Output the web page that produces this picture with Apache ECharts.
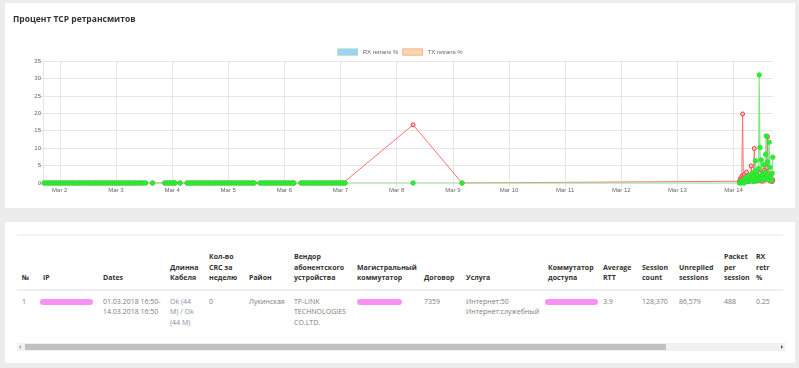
<!DOCTYPE html>
<html>
<head>
<meta charset="utf-8">
<script src="https://cdn.jsdelivr.net/npm/echarts@6/dist/echarts.min.js"></script>
<style>
  html, body { margin: 0; padding: 0; }
  body {
    width: 799px; height: 368px; position: relative; overflow: hidden;
    background: #ececec; font-family: "Open Sans", sans-serif;
  }
  .box { position: absolute; left: 5px; width: 790px; background: #fff; }
  #chartBox { top: 3px; height: 205px; }
  #tableBox { top: 222px; height: 141px; }
  #retransChart { width: 790px; height: 205px; }
  .table-wrap {
    position: absolute; left: 12px; top: 12px; width: 766px; height: 105px; overflow: hidden;
  }
  table {
    border-collapse: collapse; table-layout: fixed; font-size: 7px; line-height: 10.7px;
    border-top: 2px solid #f2f2f2;
  }
  th {
    font-weight: bold; color: #333; text-align: left; vertical-align: bottom;
    padding: 16px 2px 5px 5px; border-bottom: 2px solid #efefef; white-space: nowrap;
  }
  td { color: #7c7c7c; vertical-align: top; padding: 5.5px 2px 0 5px; white-space: nowrap; }
  td.link { color: #8790a3; }
  .masked {
    display: inline-block; height: 6px; border-radius: 3px; margin-top: 2px;
    background: rgba(244, 110, 240, 0.75);
  }
  .sb { position: absolute; left: 12px; top: 121px; width: 768px; height: 8px; background: #f1f1f1; }
  .sb .thumb { position: absolute; left: 8px; top: 1px; width: 641px; height: 6px; background: #c1c1c1; }
  .sb .arr-l, .sb .arr-r { position: absolute; top: 2px; width: 0; height: 0;
    border-top: 2px solid transparent; border-bottom: 2px solid transparent; }
  .sb .arr-l { left: 2px; border-right: 2px solid #a3a3a3; }
  .sb .arr-r { right: 2px; border-left: 2px solid #505050; }
</style>
</head>
<body>
<div class="box" id="chartBox"><div id="retransChart"></div></div>

<div class="box" id="tableBox">
  <div class="table-wrap">
    <table style="width:774px">
      <colgroup>
        <col style="width:21px"><col style="width:60px"><col style="width:67px"><col style="width:39px">
        <col style="width:40px"><col style="width:45px"><col style="width:63px"><col style="width:67px">
        <col style="width:42px"><col style="width:82px"><col style="width:55px"><col style="width:39px">
        <col style="width:37px"><col style="width:45px"><col style="width:32px"><col style="width:40px">
      </colgroup>
      <thead>
        <tr>
          <th>№</th><th>IP</th><th>Dates</th><th>Длинна<br>Кабеля</th><th>Кол-во<br>CRC за<br>неделю</th>
          <th>Район</th><th>Вендор<br>абонентского<br>устройства</th><th>Магистральный<br>коммутатор</th>
          <th>Договор</th><th>Услуга</th><th>Коммутатор<br>доступа</th><th>Average<br>RTT</th>
          <th>Session<br>count</th><th>Unreplied<br>sessions</th><th>Packet<br>per<br>session</th><th>RX<br>retr<br>%</th>
        </tr>
      </thead>
      <tbody>
        <tr>
          <td>1</td>
          <td><span class="masked" style="width:53px;margin-left:-3px"></span></td>
          <td>01.03.2018 16:50-<br>14.03.2018 16:50</td>
          <td class="link">Ok (44<br>M) / Ok<br>(44 M)</td>
          <td>0</td>
          <td>Лукинская</td>
          <td>TP-LINK<br>TECHNOLOGIES<br>CO.LTD.</td>
          <td><span class="masked" style="width:45px"></span></td>
          <td>7359</td>
          <td>Интернет:50<br>Интернет:служебный</td>
          <td><span class="masked" style="width:53px;margin-left:-3px"></span></td>
          <td>3.9</td>
          <td>128,370</td>
          <td>86,579</td>
          <td>488</td>
          <td>0.25</td>
        </tr>
      </tbody>
    </table>
  </div>
  <div class="sb"><div class="arr-l"></div><div class="thumb"></div><div class="arr-r"></div></div>
</div>

<script>
// Axis range of the chart (day of March + time)
const rangeStart = '01 16:50';
const rangeEnd = '14 16:50';
const monthName = 'Mar';

// Sample times (day of March + time)
const sampleTimes = [
  '01 17:20', '01 18:20', '01 19:20', '01 20:20', '01 21:20', '01 22:20', '01 23:20',
  '02 00:20', '02 01:20', '02 02:20', '02 03:20', '02 04:20', '02 05:20', '02 06:20', '02 07:20', '02 08:20', '02 09:20', '02 10:20', '02 11:20',
  '02 12:20', '02 13:20', '02 14:20', '02 15:20', '02 16:20', '02 17:20', '02 18:20', '02 19:20', '02 20:20', '02 21:20', '02 22:20', '02 23:20',
  '03 00:20', '03 01:20', '03 02:20', '03 03:20', '03 04:20', '03 05:20', '03 06:20', '03 07:20', '03 08:20', '03 09:20', '03 10:20', '03 11:20', '03 12:40',
  '03 15:40',
  '03 20:50', '03 21:50', '03 22:50', '03 23:50', '04 00:50', '04 01:20',
  '04 03:25',
  '04 06:25', '04 07:25', '04 08:25', '04 09:25', '04 10:25', '04 11:25', '04 12:25', '04 13:25', '04 14:25', '04 15:25', '04 16:25', '04 17:25',
  '04 18:25', '04 19:25', '04 20:25', '04 21:25', '04 22:25', '04 23:25',
  '05 00:25', '05 01:25', '05 02:25', '05 03:25', '05 04:25', '05 05:25', '05 06:25', '05 07:25', '05 08:25', '05 09:25', '05 10:25', '05 11:05',
  '05 13:35', '05 14:35', '05 15:35', '05 16:35', '05 17:35', '05 18:35', '05 19:35', '05 20:35', '05 21:35', '05 22:35', '05 23:35',
  '06 00:35', '06 01:35', '06 02:35', '06 03:35', '06 04:00',
  '06 07:05', '06 08:05', '06 09:05', '06 10:05', '06 11:05', '06 12:05', '06 13:05', '06 14:05', '06 15:05', '06 16:05', '06 17:05', '06 18:05',
  '06 19:05', '06 20:05', '06 21:05', '06 22:05', '06 23:05', '07 00:05', '07 01:05', '07 01:55',
  '08 07:00', '09 03:55',
  '14 02:30', '14 02:50', '14 03:10', '14 03:30', '14 03:50', '14 04:10', '14 04:30', '14 04:50',
  '14 05:10', '14 05:30', '14 05:50', '14 06:10', '14 06:30', '14 06:50', '14 07:10', '14 07:30',
  '14 07:50', '14 08:10', '14 08:30', '14 08:50', '14 09:05', '14 09:20', '14 09:40', '14 10:00',
  '14 10:20', '14 10:40', '14 10:55', '14 11:15', '14 11:30', '14 11:50', '14 12:10', '14 12:30',
  '14 12:50', '14 13:10', '14 13:25', '14 13:40', '14 13:55', '14 14:15', '14 14:30', '14 14:50',
  '14 15:10', '14 15:30', '14 15:50', '14 16:10', '14 16:30', '14 16:45'
];

// RX retrans %, one value per sample time
const rxRetrans = [
  0, 0, 0, 0, 0, 0, 0,
  0, 0, 0, 0, 0, 0, 0, 0, 0, 0, 0, 0,
  0, 0, 0, 0, 0, 0, 0, 0, 0, 0, 0, 0,
  0, 0, 0, 0, 0, 0, 0, 0, 0, 0, 0, 0, 0,
  0,
  0, 0, 0, 0, 0, 0,
  0,
  0, 0, 0, 0, 0, 0, 0, 0, 0, 0, 0, 0,
  0, 0, 0, 0, 0, 0,
  0, 0, 0, 0, 0, 0, 0, 0, 0, 0, 0, 0,
  0, 0, 0, 0, 0, 0, 0, 0, 0, 0, 0,
  0, 0, 0, 0, 0,
  0, 0, 0, 0, 0, 0, 0, 0, 0, 0, 0, 0,
  0, 0, 0, 0, 0, 0, 0, 0,
  0, 0,
  0, 0.3, 0, 0.6, 0.2, 0.8, 0, 1.2,
  0.4, 0.9, 1.6, 0.5, 2.1, 0.7, 1.4, 0.6,
  2.6, 0.9, 1.8, 0.4, 3.4, 6.4, 1.1, 2.3,
  0.8, 4.1, 31.0, 10.2, 1.5, 6.6, 2.4, 0.9,
  5.2, 1.3, 3.0, 8.2, 13.5, 2.2, 6.0, 1.0,
  11.7, 4.5, 1.9, 0.7, 2.8, 7.4
];

// TX retrans %, one value per sample time
const txRetrans = [
  0, 0, 0, 0, 0, 0, 0,
  0, 0, 0, 0, 0, 0, 0, 0, 0, 0, 0, 0,
  0, 0, 0, 0, 0, 0, 0, 0, 0, 0, 0, 0,
  0, 0, 0, 0, 0, 0, 0, 0, 0, 0, 0, 0, 0,
  0,
  0, 0, 0, 0, 0, 0,
  0,
  0, 0, 0, 0, 0, 0, 0, 0, 0, 0, 0, 0,
  0, 0, 0, 0, 0, 0,
  0, 0, 0, 0, 0, 0, 0, 0, 0, 0, 0, 0,
  0, 0, 0, 0, 0, 0, 0, 0, 0, 0, 0,
  0, 0, 0, 0, 0,
  0, 0, 0, 0, 0, 0, 0, 0, 0, 0, 0, 0,
  0, 0, 0, 0, 0, 0, 0, 0,
  16.7, 0,
  0.5, 1.2, 0.8, 2.0, 19.8, 1.5, 2.4, 0.6,
  1.8, 3.1, 0.7, 1.3, 0.4, 2.2, 0.9, 4.9,
  1.1, 2.0, 0.5, 9.9, 1.6, 0.8, 2.5, 0.6,
  1.9, 1.2, 0.7, 2.8, 0.9, 1.7, 0.5, 2.3,
  1.0, 3.6, 0.8, 1.4, 2.1, 4.4, 13.3, 2.7,
  1.5, 0.6, 2.2, 1.0, 0.4, 0.9
];

const yTicks = [0, 5, 10, 15, 20, 25, 30, 35];

/**
 * Converts 'DD HH:MM' (March) into hours since Mar 1 00:00.
 * @param {string} s
 */
function toHours(s) {
  const [day, hm] = s.split(' ');
  const [h, m] = hm.split(':');
  return (Number(day) - 1) * 24 + Number(h) + Number(m) / 60;
}

const labelFont = '"Liberation Sans", Arial, sans-serif';
const gridColor = '#e6e6e6';

const chart = echarts.init(document.getElementById('retransChart'));

const option = {
  backgroundColor: '#fff',
  animation: false,
  title: {
    text: 'Процент TCP ретрансмитов',
    left: 8,
    top: 12,
    padding: 0,
    textStyle: {
      fontFamily: '"Open Sans", sans-serif',
      fontWeight: 'bold',
      fontSize: 8.5,
      color: '#333'
    }
  },
  legend: {
    top: 45.5,
    left: 'center',
    padding: 0,
    itemWidth: 20,
    itemHeight: 6.5,
    itemGap: 4,
    textStyle: {fontFamily: labelFont, fontSize: 6, color: '#666'},
    data: [
      {name: 'RX retrans %', icon: 'rect',
        itemStyle: {color: '#a4d0f7', borderColor: '#7ee59a', borderWidth: 0.6}},
      {name: 'TX retrans %', icon: 'rect',
        itemStyle: {color: '#fad6a8', borderColor: '#f39088', borderWidth: 0.6}}
    ]
  },
  grid: {left: 38, right: 22, top: 58, bottom: 25},
  xAxis: {
    type: 'value',
    min: toHours(rangeStart),
    max: toHours(rangeEnd),
    minInterval: 24,
    maxInterval: 24,
    axisLine: {lineStyle: {color: gridColor}},
    axisTick: {show: true, length: 4, lineStyle: {color: gridColor}},
    splitLine: {show: true, showMaxLine: false, lineStyle: {color: gridColor}},
    axisLabel: {
      showMinLabel: false,
      showMaxLabel: false,
      margin: 4,
      fontFamily: labelFont,
      fontSize: 6,
      color: '#666',
      formatter: v => monthName + ' ' + (1 + Math.round(v / 24))
    }
  },
  yAxis: {
    type: 'value',
    min: yTicks[0],
    max: yTicks[yTicks.length - 1],
    interval: yTicks[1] - yTicks[0],
    axisLine: {show: true, lineStyle: {color: gridColor}},
    axisTick: {show: true, length: 4, lineStyle: {color: gridColor}},
    splitLine: {lineStyle: {color: gridColor}},
    axisLabel: {margin: 2, fontFamily: labelFont, fontSize: 6, color: '#666'}
  },
  series: [
    {
      name: 'TX retrans %',
      type: 'line',
      data: sampleTimes.map((t, i) => [toHours(t), txRetrans[i]]),
      symbol: 'circle',
      symbolSize: 4,
      lineStyle: {color: '#ff7373', width: 1},
      itemStyle: {color: 'rgba(255, 190, 190, 0.85)', borderColor: '#ee3b3b', borderWidth: 1}
    },
    {
      name: 'RX retrans %',
      type: 'line',
      data: sampleTimes.map((t, i) => [toHours(t), rxRetrans[i]]),
      symbol: 'circle',
      symbolSize: 4.5,
      lineStyle: {color: '#86e686', width: 1.2},
      itemStyle: {color: '#2cf02c', borderColor: '#24e036', borderWidth: 0.8}
    }
  ]
};

chart.setOption(option);

window.addEventListener('resize', function () {
  chart.resize();
});
</script>
</body>
</html>
